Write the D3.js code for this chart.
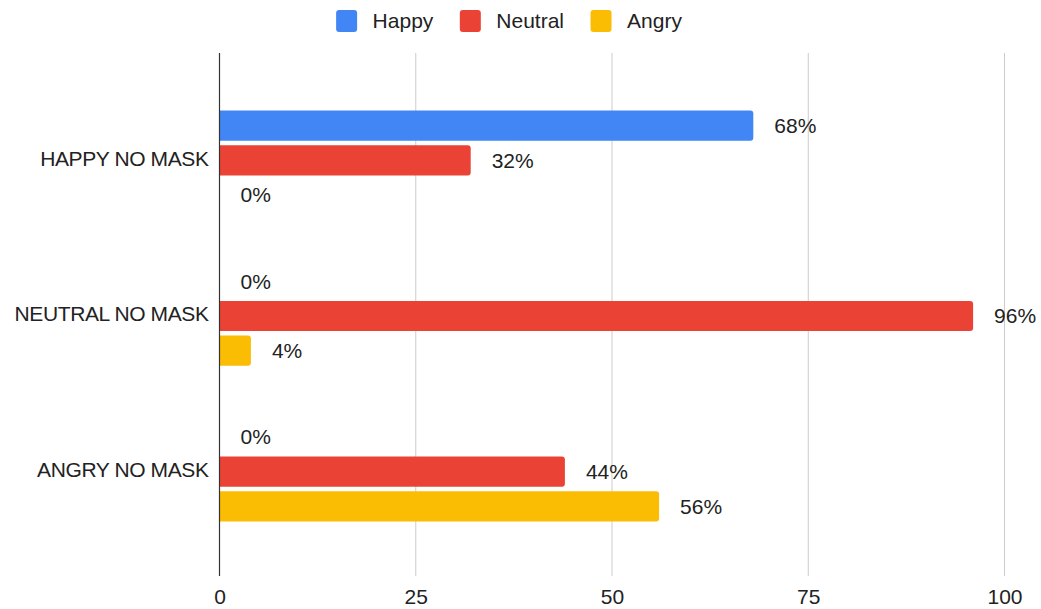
<!DOCTYPE html>
<html>
<head>
<meta charset="utf-8">
<script src="https://cdn.jsdelivr.net/npm/d3@7"></script>
<style>
  html, body { margin: 0; padding: 0; background: #fff; }
  svg { display: block; font-family: Arial, "Liberation Sans", sans-serif; }
</style>
</head>
<body>
<svg id="chart" width="1041" height="609"></svg>
<script>
// Recognition results per stimulus type (percent of responses)
const categories = ["HAPPY NO MASK", "NEUTRAL NO MASK", "ANGRY NO MASK"];
const seriesNames = ["Happy", "Neutral", "Angry"];
const happyValues = [68, 0, 0];
const neutralValues = [32, 96, 44];
const angryValues = [0, 4, 56];
const xTicks = [0, 25, 50, 75, 100];
const colors = ["#4285F4", "#EA4335", "#FBBC04"];

const seriesValues = [happyValues, neutralValues, angryValues];

const svg = d3.select("#chart");
const plotLeft = 219.5, plotRight = 1004.5, plotTop = 53, plotBottom = 576;
const fontSize = 21;

const x = d3.scaleLinear().domain([0, 100]).range([plotLeft, plotRight]);
const y0 = d3.scaleBand().domain(categories).range([56, plotBottom])
  .paddingInner(0.36).paddingOuter(0.35);
const y1 = d3.scaleBand().domain(seriesNames).range([0, y0.bandwidth()])
  .paddingInner(0.13);
const color = d3.scaleOrdinal().domain(seriesNames).range(colors);

// vertical gridlines
svg.append("g").selectAll("line").data(xTicks.filter(d => d > 0)).join("line")
  .attr("x1", d => x(d)).attr("x2", d => x(d))
  .attr("y1", plotTop).attr("y2", plotBottom)
  .attr("stroke", "#cccccc").attr("stroke-width", 1);

// x axis tick labels
const xAxis = d3.axisBottom(x).tickValues(xTicks).tickSize(0).tickPadding(0)
  .tickFormat(d3.format("d"));
const gx = svg.append("g").attr("transform", `translate(0,${plotBottom + 13})`).call(xAxis);
gx.select(".domain").remove();
gx.selectAll("text").attr("font-size", fontSize).attr("fill", "#222")
  .attr("font-family", "Arial, 'Liberation Sans', sans-serif");

// category labels
const yAxis = d3.axisLeft(y0).tickSize(0).tickPadding(0);
const gy = svg.append("g").attr("transform", `translate(${plotLeft - 11},-1.5)`).call(yAxis);
gy.select(".domain").remove();
gy.selectAll("text").attr("font-size", fontSize).attr("fill", "#222")
  .attr("font-family", "Arial, 'Liberation Sans', sans-serif")
  .attr("letter-spacing", "-0.4px");

// rows of bars
const rows = categories.map((c, i) => ({
  category: c,
  items: seriesNames.map((s, j) => ({ series: s, value: seriesValues[j][i] }))
}));

function barPath(x0, x1, yTop, h, r) {
  const w = x1 - x0;
  if (w <= 0) return "";
  r = Math.min(r, w, h / 2);
  return `M${x0},${yTop}H${x1 - r}Q${x1},${yTop} ${x1},${yTop + r}` +
    `V${yTop + h - r}Q${x1},${yTop + h} ${x1 - r},${yTop + h}H${x0}Z`;
}

const groups = svg.append("g").selectAll("g").data(rows).join("g")
  .attr("transform", d => `translate(0,${y0(d.category)})`);

groups.selectAll("path").data(d => d.items).join("path")
  .attr("d", d => barPath(x(0), x(d.value), y1(d.series), y1.bandwidth(), 3))
  .attr("fill", d => color(d.series));

groups.selectAll("text").data(d => d.items).join("text")
  .attr("x", d => x(d.value) + 21)
  .attr("y", d => y1(d.series) + y1.bandwidth() / 2)
  .attr("dy", "0.35em")
  .attr("font-size", fontSize)
  .attr("fill", "#222")
  .text(d => d.value + "%");

// zero axis line
svg.append("line")
  .attr("x1", x(0)).attr("x2", x(0))
  .attr("y1", plotTop).attr("y2", plotBottom)
  .attr("stroke", "#333").attr("stroke-width", 1.2);

// legend
const legend = svg.append("g");
const items = legend.selectAll("g").data(seriesNames).join("g");
items.append("rect")
  .attr("width", 21).attr("height", 22).attr("rx", 3)
  .attr("y", 10)
  .attr("fill", d => color(d));
items.append("text")
  .attr("x", 36.5).attr("y", 21).attr("dy", "0.35em")
  .attr("font-size", fontSize).attr("fill", "#222")
  .text(d => d);
let cursor = 0;
const offsets = [];
items.each(function () {
  offsets.push(cursor);
  const w = 36.5 + this.querySelector("text").getComputedTextLength();
  cursor += w + 26.5;
});
const legendWidth = cursor - 26.5;
const legendStart = 509 - legendWidth / 2;
items.attr("transform", (d, i) => `translate(${legendStart + offsets[i]},0)`);
</script>
</body>
</html>
